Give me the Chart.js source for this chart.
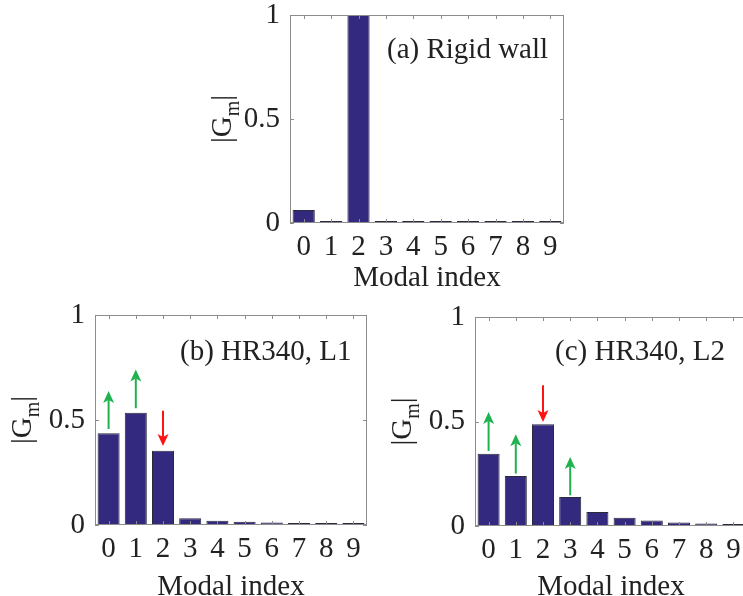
<!DOCTYPE html>
<html>
<head>
<meta charset="utf-8">
<script src="https://cdn.jsdelivr.net/npm/chart.js@4"></script>
<style>
  html,
  body {
    margin: 0;
    padding: 0;
    width: 743px;
    height: 596px;
    background: #fff;
    overflow: hidden;
    position: relative;
  }
  canvas {
    position: absolute;
  }
</style>
</head>
<body>
<canvas id="grafico_a" width="400" height="300" style="left: 190px; top: 0px"></canvas>
<canvas id="grafico_b" width="400" height="320" style="left: 0px; top: 300px"></canvas>
<canvas id="grafico_c" width="400" height="320" style="left: 380px; top: 300px"></canvas>
<script>
// indices modais no eixo x
const modos = ["0", "1", "2", "3", "4", "5", "6", "7", "8", "9"];
const ticksY = [0, 0.5, 1];

// |Gm| de cada caso
const paredeRigida = [0.063, 0.006, 1.0, 0.004, 0.002, 0.002, 0.002, 0.002, 0.002, 0.002];
const hr340L1 = [0.437, 0.535, 0.354, 0.032, 0.02, 0.016, 0.012, 0.009, 0.007, 0.006];
const hr340L2 = [0.346, 0.239, 0.487, 0.139, 0.067, 0.04, 0.026, 0.017, 0.012, 0.008];

// setas: modo, valor de saida, valor de chegada
const setasL1 = [
  { modo: 0, de: 0.457, ate: 0.638 },
  { modo: 1, de: 0.556, ate: 0.741 },
  { modo: 2, de: 0.544, ate: 0.376 },
];
const setasL2 = [
  { modo: 0, de: 0.359, ate: 0.545 },
  { modo: 1, de: 0.251, ate: 0.439 },
  { modo: 2, de: 0.673, ate: 0.498 },
  { modo: 3, de: 0.147, ate: 0.33 },
];

const corBarra = "#33297f";
const corBorda = "#2a2a3a";
const corEixo = "#8c8c8c";
const corTexto = "#222222";
const fonte = "Liberation Serif";

Chart.defaults.font.family = fonte;
Chart.defaults.font.size = 29;
Chart.defaults.color = corTexto;

function linha(ctx, x1, y1, x2, y2) {
  ctx.beginPath();
  ctx.moveTo(x1, y1);
  ctx.lineTo(x2, y2);
  ctx.stroke();
}

function desenharSeta(ctx, x, y0, y1) {
  const sobe = y1 < y0;
  const cor = sobe ? "#1fb24f" : "#ff1414";
  const dir = sobe ? -1 : 1;
  const ponta = 12;
  ctx.strokeStyle = cor;
  ctx.fillStyle = cor;
  ctx.lineWidth = 2;
  linha(ctx, x, y0, x, y1 - dir * (ponta - 3));
  ctx.beginPath();
  ctx.moveTo(x, y1);
  ctx.lineTo(x - 5.5, y1 - dir * ponta);
  ctx.lineTo(x, y1 - dir * (ponta - 3));
  ctx.lineTo(x + 5.5, y1 - dir * ponta);
  ctx.closePath();
  ctx.fill();
}

// caixa do eixo, marcas internas, titulo, rotulo |Gm| e setas
const moldura = {
  id: "moldura",
  afterDatasetsDraw(chart, args, opts) {
    const ctx = chart.ctx;
    const a = chart.chartArea;
    const x = chart.scales.x;
    const y = chart.scales.y;

    ctx.save();
    ctx.strokeStyle = corEixo;
    ctx.lineWidth = 1;
    ctx.strokeRect(a.left + 0.5, a.top + 0.5, a.right - a.left - 1, a.bottom - a.top - 1);

    modos.forEach((m, i) => {
      const px = Math.round(x.getPixelForTick(i)) + 0.5;
      linha(ctx, px, a.top, px, a.top + 4);
      linha(ctx, px, a.bottom, px, a.bottom - 4);
    });
    ticksY.forEach((v) => {
      const py = Math.round(y.getPixelForValue(v)) + 0.5;
      linha(ctx, a.left, py, a.left + 4, py);
      linha(ctx, a.right, py, a.right - 4, py);
    });

    (opts.setas || []).forEach((s) => {
      desenharSeta(ctx, x.getPixelForValue(s.modo), y.getPixelForValue(s.de), y.getPixelForValue(s.ate));
    });

    // titulo do painel
    ctx.fillStyle = corTexto;
    ctx.font = `29px "${fonte}"`;
    ctx.textAlign = "left";
    ctx.textBaseline = "alphabetic";
    ctx.fillText(opts.titulo, a.left + opts.tituloX, a.top + opts.tituloY);

    // rotulo vertical |Gm|
    const meio = (a.top + a.bottom) / 2;
    ctx.translate(a.left + opts.rotuloX, meio);
    ctx.rotate(-Math.PI / 2);
    const w1 = ctx.measureText("|G").width;
    ctx.font = `20px "${fonte}"`;
    const w2 = ctx.measureText("m").width;
    ctx.font = `29px "${fonte}"`;
    const w3 = ctx.measureText("|").width;
    let pos = -(w1 + w2 + w3) / 2;
    ctx.fillText("|G", pos, 0);
    pos += w1;
    ctx.font = `20px "${fonte}"`;
    ctx.fillText("m", pos, 8);
    pos += w2;
    ctx.font = `29px "${fonte}"`;
    ctx.fillText("|", pos, 0);
    ctx.restore();
  },
};

function criarGrafico(id, valores, painel) {
  const ctx = document.getElementById(id).getContext("2d");

  return new Chart(ctx, {
    type: "bar",
    data: {
      labels: modos,
      datasets: [
        {
          data: valores,
          backgroundColor: corBarra,
          borderColor: corBorda,
          borderWidth: 1,
          borderSkipped: false,
          minBarLength: 2,
          barPercentage: 1,
          categoryPercentage: 0.81,
        },
      ],
    },
    options: {
      responsive: false,
      animation: false,
      devicePixelRatio: 1,
      layout: {
        padding: { left: 0, top: painel.topo, right: painel.direita, bottom: 0 },
      },
      plugins: {
        legend: { display: false },
        tooltip: { enabled: false },
        moldura: painel,
      },
      scales: {
        x: {
          grid: { display: false, drawTicks: false },
          border: { display: false },
          ticks: { padding: 7, maxRotation: 0, autoSkip: false },
          title: {
            display: true,
            text: "Modal index",
            padding: { top: 0, bottom: painel.tituloEixo },
          },
          afterFit: (s) => {
            s.height = painel.alturaX;
            s.paddingLeft = 0;
            s.paddingRight = 0;
          },
        },
        y: {
          min: 0,
          max: 1,
          grid: { display: false, drawTicks: false },
          border: { display: false },
          ticks: {
            stepSize: 0.5,
            padding: 10,
            callback: (v) => String(v),
          },
          afterFit: (s) => {
            s.width = painel.larguraY;
            s.paddingTop = 0;
            s.paddingBottom = 0;
          },
        },
      },
    },
    plugins: [moldura],
  });
}

criarGrafico("grafico_a", paredeRigida, {
  titulo: "(a) Rigid wall",
  tituloX: 97,
  tituloY: 43,
  rotuloX: -59,
  topo: 15,
  direita: 26,
  larguraY: 100,
  alturaX: 77,
  tituloEixo: 4,
});

criarGrafico("grafico_b", hr340L1, {
  titulo: "(b) HR340, L1",
  tituloX: 85,
  tituloY: 45,
  rotuloX: -64,
  setas: setasL1,
  topo: 15,
  direita: 33,
  larguraY: 95,
  alturaX: 95,
  tituloEixo: 15,
});

criarGrafico("grafico_c", hr340L2, {
  titulo: "(c) HR340, L2",
  tituloX: 80,
  tituloY: 43,
  rotuloX: -64,
  setas: setasL2,
  topo: 17,
  direita: 33,
  larguraY: 95,
  alturaX: 94,
  tituloEixo: 15,
});
</script>
</body>
</html>
